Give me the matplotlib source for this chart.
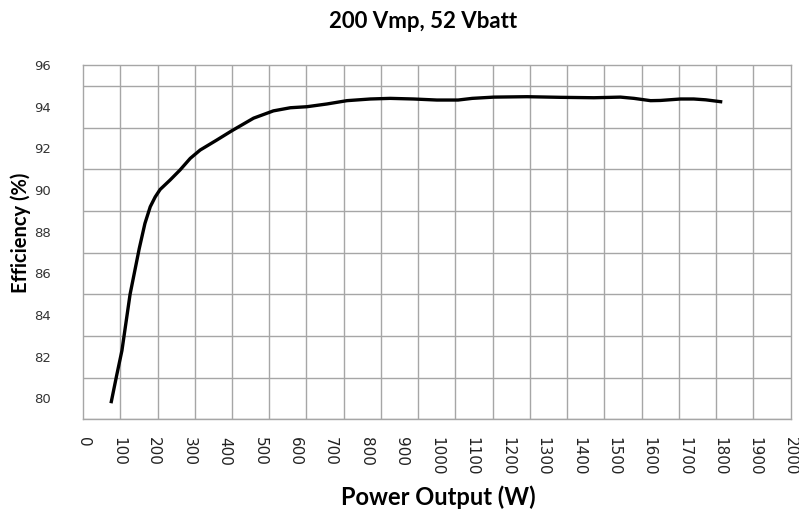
import numpy as np
import matplotlib.pyplot as plt

power = [80, 95, 110, 133, 159, 175, 190, 204, 218, 246, 274, 303, 331, 378,
         421, 482, 538, 586, 633, 689, 746, 812, 868, 934, 1000, 1060, 1100,
         1161, 1255, 1349, 1444, 1519, 1557, 1604, 1632, 1689, 1726, 1760, 1802]
eff = [79.85, 81.1, 82.3, 85.0, 87.2, 88.4, 89.2, 89.67, 90.03, 90.48, 90.96,
       91.52, 91.92, 92.4, 92.85, 93.45, 93.8, 93.95, 94.0, 94.13, 94.29, 94.37,
       94.4, 94.37, 94.32, 94.32, 94.4, 94.46, 94.48, 94.45, 94.43, 94.46,
       94.4, 94.29, 94.3, 94.37, 94.37, 94.33, 94.24]

xticks = np.arange(0, 2001, 100)
yticks = np.arange(80, 97, 2)

fig = plt.figure(figsize=(7.99, 5.14), dpi=100)
ax = fig.add_axes([0.1039, 0.1842, 0.8857, 0.6893])

ax.plot(power, eff, color='black', lw=2.4, solid_joinstyle='round', zorder=3)

ax.set_xlim(0, 2000)
ax.set_ylim(79, 96)

ax.set_xticks(xticks)
ax.set_xticklabels([str(v) for v in xticks], rotation=-90, fontsize=11,
                   family='DejaVu Sans', color='#222222')
ax.set_yticks(yticks)
ax.set_yticklabels([str(v) for v in yticks], fontsize=9.5,
                   family=['Liberation Sans Narrow', 'DejaVu Sans'], color='#333333')

# grid: 19 vertical divisions, one horizontal line per percent
ax.set_xticks(np.linspace(0, 2000, 20), minor=True)
ax.set_yticks(np.arange(79, 97, 1), minor=True)
ax.grid(which='minor', color='#a6a6a6', lw=1.0)
ax.grid(which='major', visible=False)
ax.tick_params(which='both', length=0)
ax.tick_params(axis='x', pad=13)
ax.tick_params(axis='y', pad=23)
for s in ax.spines.values():
    s.set_color('#a6a6a6')
    s.set_linewidth(1.0)

fig.text(0.529, 0.958, '200 Vmp, 52 Vbatt', ha='center', va='center',
         fontsize=16, fontweight='bold', family='Lato')
fig.text(0.548, 0.032, 'Power Output (W)', ha='center', va='center',
         fontsize=17, fontweight='bold', family='Lato')
fig.text(0.026, 0.548, 'Efficiency (%)', ha='center', va='center', rotation=90,
         fontsize=14.5, fontweight='bold', family='Lato')

fig.savefig('out.png', dpi=100)
